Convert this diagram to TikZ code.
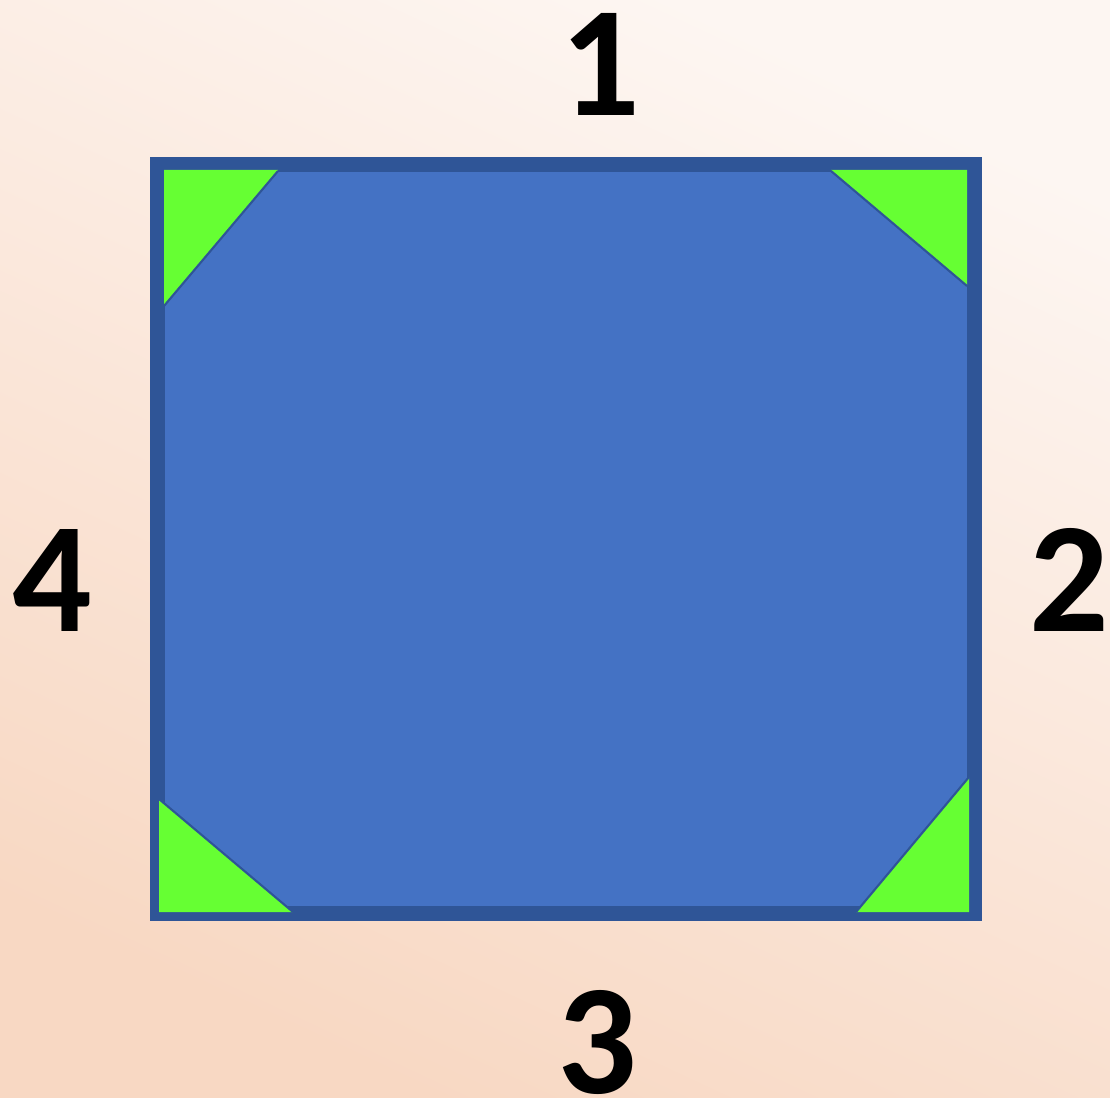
\documentclass[tikz,border=0pt]{standalone}
\usepackage{fontspec}
\setmainfont{Carlito}
\definecolor{bgtop}{HTML}{FDF6F2}
\definecolor{bgbot}{HTML}{F8D8C3}
\definecolor{darkb}{HTML}{2F5597}
\definecolor{lightb}{HTML}{4472C4}
\definecolor{grn}{HTML}{66FF33}
\tikzset{
  numlabel/.style={inner sep=0pt, font=\fontsize{44.7}{50}\selectfont\bfseries, text=black},
  corner/.style={fill=grn, draw=none},
  hyp/.style={draw=darkb, line width=0.6pt}
}
\begin{document}
\begin{tikzpicture}[x=0.01cm,y=-0.01cm]
\shade[top color=bgtop, bottom color=bgbot, shading angle=-25] (0,0) rectangle (1110,1098);
\useasboundingbox (0,0) rectangle (1110,1098);
% square
\fill[darkb] (150,157) rectangle (982,921);
\fill[lightb] (165,172) rectangle (967,906);
% corner triangles
\fill[corner] (164,170) -- (278,170) -- (164,305) -- cycle;
\draw[hyp] (278,171) -- (164,306);
\fill[corner] (831,170) -- (967,170) -- (967,285) -- cycle;
\draw[hyp] (831,171) -- (967,286);
\fill[corner] (159,799) -- (293,912) -- (159,912) -- cycle;
\draw[hyp] (159,799) -- (293,912);
\fill[corner] (969,777) -- (969,912) -- (856,912) -- cycle;
\draw[hyp] (969,777) -- (856,912);
% labels
\node[numlabel] (n1) at (600,64) {1};
\node[numlabel] (n2) at (1069,580) {2};
\node[numlabel] (n3) at (597,1042) {3};
\node[numlabel] (n4) at (52,580) {4};
\end{tikzpicture}
\end{document}
